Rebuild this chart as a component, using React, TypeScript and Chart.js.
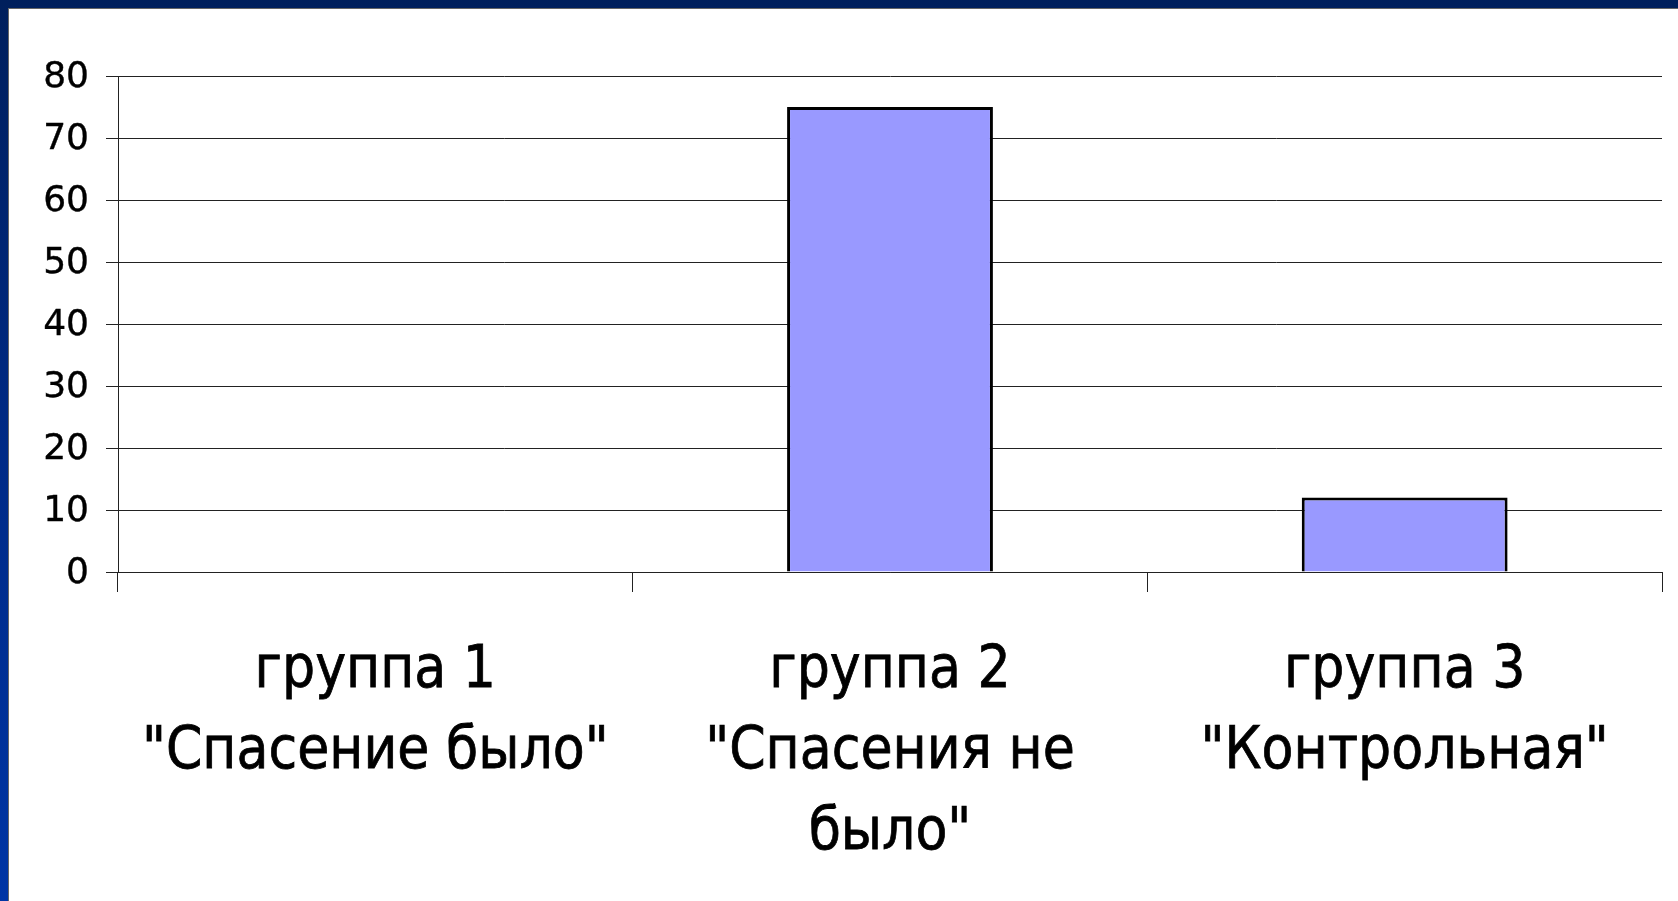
import React, { useEffect, useRef } from "react";
import { Chart, registerables } from "chart.js";

Chart.register(...registerables);

const categories: string[][] = [
  ["группа 1", "\"Спасение было\""],
  ["группа 2", "\"Спасения не", "было\""],
  ["группа 3", "\"Контрольная\""],
];
const values: number[] = [0, 75, 12];
const yMin = 0;
const yMax = 80;
const yStep = 10;

// Wraps a scale's label drawing so that each label gets a horizontal stretch / vertical nudge
function wrapLabels(scale: any, sx: number, dy: number) {
  if (scale._wrapped) return;
  const orig = scale.drawLabels;
  scale.drawLabels = function (area: any) {
    const ctx = this.ctx;
    const origTranslate = ctx.translate;
    ctx.translate = function (x: number, y: number) {
      origTranslate.call(ctx, x, y + dy);
      ctx.scale(sx, 1);
    };
    try {
      orig.call(this, area);
    } finally {
      ctx.translate = origTranslate;
    }
  };
  scale._wrapped = true;
}

export default function App() {
  const ref = useRef<HTMLCanvasElement | null>(null);

  useEffect(() => {
    if (!ref.current) return;
    const chart = new Chart(ref.current, {
      type: "bar",
      data: {
        labels: categories,
        datasets: [
          {
            data: values,
            backgroundColor: "#9999FF",
            borderColor: "#000000",
            borderWidth: 3,
            borderSkipped: "bottom",
            barPercentage: 0.4,
            categoryPercentage: 1,
          },
        ],
      },
      options: {
        responsive: false,
        animation: false,
        layout: { padding: { left: 0, right: 16, top: 76, bottom: 0 } },
        plugins: {
          legend: { display: false },
          tooltip: { enabled: false },
          title: { display: false },
        },
        scales: {
          x: {
            offset: true,
            grid: {
              offset: true,
              drawOnChartArea: false,
              drawTicks: true,
              tickLength: 20,
              color: "#222222",
              lineWidth: 1,
            },
            border: { display: true, color: "#222222", width: 1 },
            ticks: {
              color: "#000000",
              textStrokeColor: "#000000",
              textStrokeWidth: 0.8,
              padding: 40,
              maxRotation: 0,
              autoSkip: false,
              font: { family: "'DejaVu Sans'", size: 58, lineHeight: 1.39 },
            },
            afterFit: (scale: any) => {
              scale.height = 901 - 572;
              wrapLabels(scale, 0.9, 0);
            },
          },
          y: {
            min: yMin,
            max: yMax,
            ticks: {
              stepSize: yStep,
              color: "#000000",
              textStrokeColor: "#000000",
              textStrokeWidth: 0.4,
              padding: 17,
              font: { family: "'DejaVu Sans'", size: 36 },
            },
            grid: {
              color: "#222222",
              lineWidth: 1,
              tickLength: 12,
            },
            border: { display: true, color: "#222222", width: 1 },
            afterFit: (scale: any) => {
              scale.width = 118;
              wrapLabels(scale, 1, 2);
            },
          },
        },
      },
    });
    return () => chart.destroy();
  }, []);

  return (
    <div
      style={{
        position: "fixed",
        left: 0,
        top: 0,
        width: 1678,
        height: 901,
        background: "linear-gradient(180deg, #001f5c 0%, #002a86 50%, #0035a5 100%)",
        overflow: "hidden",
      }}
    >
      <div
        style={{
          position: "absolute",
          left: 8,
          top: 8,
          right: 0,
          bottom: 0,
          background: "#ffffff",
          borderLeft: "1px solid #666",
          borderTop: "1px solid #666",
        }}
      />
      <canvas
        ref={ref}
        width={1678}
        height={901}
        style={{ position: "absolute", left: 0, top: 0, width: 1678, height: 901 }}
      />
    </div>
  );
}
